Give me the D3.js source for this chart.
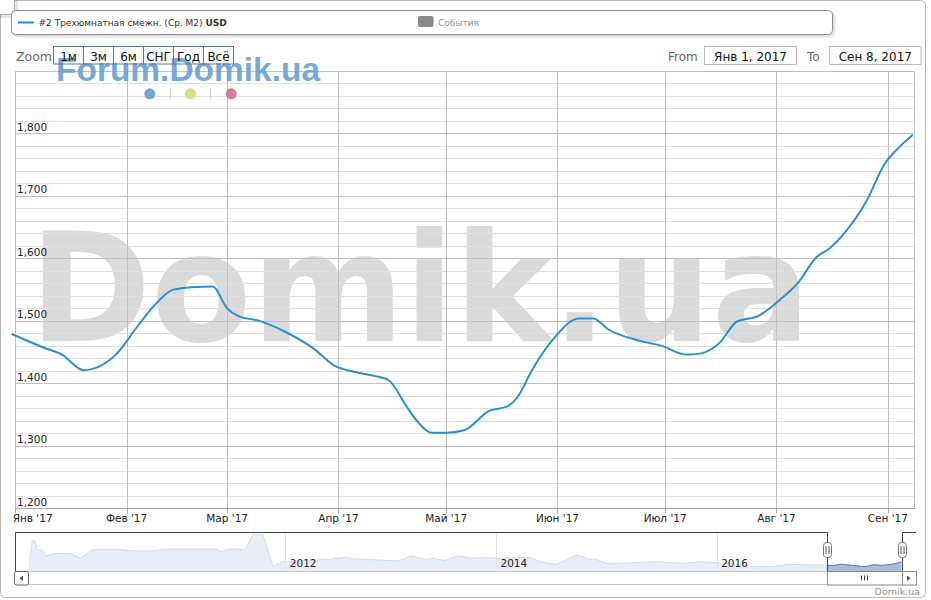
<!DOCTYPE html>
<html><head><meta charset="utf-8">
<script src="https://cdn.jsdelivr.net/npm/d3@7"></script>
<style>
body{margin:0;background:#fff;}
svg{display:block;font-family:"DejaVu Sans",Verdana,sans-serif;}
</style>
</head><body>
<svg id="c" width="931" height="600"></svg>
<script>
// ---------------- DATA ----------------
const seriesName = "#2 Трехюмнатная смежн. (Ср. М2) ";
const seriesUnit = "USD";
const eventsLabel = "События";
const zoomLabel = "Zoom";
const zoomButtons = ["1м","3м","6м","СНГ","Год","Всё"];
const fromText = "From", toText = "To";
const fromValue = "Янв 1, 2017", toValue = "Сен 8, 2017";
const monthNames = ["Янв","Фев","Мар","Апр","Май","Июн","Июл","Авг","Сен","Окт","Ноя","Дек"];
const yTicks = [1200,1300,1400,1500,1600,1700,1800];
const navYears = [2012, 2014, 2016];
const watermarkBig = "Domik.ua";
const watermarkSmall = "Forum.Domik.ua";
const creditText = "Domik.ua";

const mainDates = ["2016-12-31","2017-01-09","2017-01-14","2017-01-20","2017-01-24","2017-01-29",
 "2017-02-04","2017-02-08","2017-02-14","2017-02-19","2017-02-25","2017-03-01","2017-03-04",
 "2017-03-10","2017-03-17","2017-03-25","2017-03-31","2017-04-05","2017-04-11","2017-04-15",
 "2017-04-20","2017-04-23","2017-04-27","2017-05-01","2017-05-06","2017-05-13","2017-05-18",
 "2017-05-21","2017-05-25","2017-05-31","2017-06-07","2017-06-11","2017-06-15","2017-06-24",
 "2017-06-30","2017-07-07","2017-07-11","2017-07-16","2017-07-21","2017-07-27","2017-08-02",
 "2017-08-07","2017-08-12","2017-08-16","2017-08-20","2017-08-26","2017-08-31","2017-09-04","2017-09-08"];
const mainValues = [1479,1457,1446,1421,1426,1446,
 1491,1520,1550,1554,1555,1520,1508,
 1500,1483,1456,1428,1419,1412,1405,
 1363,1339,1321,1321,1325,1356,1363,
 1379,1422,1472,1504,1504,1487,1468,
 1460,1446,1448,1464,1499,1508,1534,
 1561,1601,1617,1641,1691,1750,1777,1798];

const navDates = ["2009-06-05","2009-06-10","2009-06-17","2009-06-27","2009-07-06","2009-07-24","2009-08-06",
 "2009-09-09","2009-11-03","2009-12-12","2010-01-21","2010-02-27","2010-03-29","2010-05-05","2010-06-11",
 "2010-09-04","2010-10-23","2011-04-24","2011-05-12","2011-06-05","2011-07-18","2011-08-05","2011-09-05",
 "2011-10-11","2011-11-17","2011-12-24","2012-01-17","2012-03-27","2012-06-04","2012-07-26","2012-09-04",
 "2013-01-27","2013-03-14","2013-04-29","2013-06-03","2013-07-07","2013-08-22","2013-10-13","2013-11-17",
 "2014-01-05","2014-04-23","2014-06-06","2014-07-21","2014-09-25","2014-11-08","2014-11-28","2015-01-02",
 "2015-02-05","2015-04-06","2015-06-11","2015-09-07","2015-11-12","2016-01-01","2016-03-02","2016-05-07",
 "2016-07-02","2016-08-26","2016-11-01","2016-12-28"];
const navValues = [2350,2350,4030,4030,3050,3050,2420,
 2700,2700,2180,3050,3150,3100,3120,2970,
 2970,3150,3150,2870,3150,3150,2970,4690,
 4690,1290,1850,1810,2005,2080,2290,2110,
 1900,2455,2080,2185,1930,2455,2185,2250,
 2185,2290,1720,1550,2550,2080,2100,1650,
 1650,1720,1830,1650,1830,1720,1550,1300,
 1300,1550,1480,1480];

// ---------------- SETUP ----------------
const svg = d3.select("#c");
const P = d3.utcParse("%Y-%m-%d");
const main = mainDates.map((d,i)=>({date:P(d), value:mainValues[i]}));
const nav = navDates.map((d,i)=>({date:P(d), value:navValues[i]})).concat(main);
const crisp = v => Math.round(v) + 0.5;

const plot = {l:15.3, r:915, t:71, b:508.3};
const x = d3.scaleUtc().domain([Date.UTC(2017,0,1), Date.UTC(2017,8,8,14)]).range([plot.l, plot.r]);
const y = d3.scaleLinear().domain([1200, 1900]).range([plot.b, plot.t]);

// outer border
svg.append("rect").attr("x",0.5).attr("y",0.5).attr("width",925).attr("height",597)
  .attr("rx",5).attr("fill","#fff").attr("stroke","#b8b8b8");

// top-left small box
[3,2,1].forEach((o,i)=>svg.append("rect").attr("x",-4+o).attr("y",-4+o).attr("width",19).attr("height",19)
  .attr("rx",3).attr("fill","none").attr("stroke","#000").attr("stroke-opacity",0.05*(i+1)).attr("stroke-width",1));
svg.append("rect").attr("x",-4.5).attr("y",-4.5).attr("width",19).attr("height",19).attr("rx",3)
  .attr("fill","#fff").attr("stroke","#aaa");

// legend box with shadow
[3,2,1].forEach((o,i)=>svg.append("rect").attr("x",11.5+o).attr("y",10.5+o).attr("width",821).attr("height",24)
  .attr("rx",4).attr("fill","none").attr("stroke","#000").attr("stroke-opacity",0.05*(i+1)));
svg.append("rect").attr("x",11.5).attr("y",10.5).attr("width",821).attr("height",24).attr("rx",4)
  .attr("fill","#fff").attr("stroke","#909090");
svg.append("line").attr("x1",18).attr("x2",34).attr("y1",22.5).attr("y2",22.5)
  .attr("stroke","#2b8fcf").attr("stroke-width",2);
const lt = svg.append("text").attr("x",38.5).attr("y",25.5).attr("font-size",9).attr("fill","#333");
lt.append("tspan").text(seriesName);
lt.append("tspan").attr("font-weight","bold").text(seriesUnit);
svg.append("rect").attr("x",418).attr("y",16).attr("width",15.5).attr("height",11).attr("rx",2).attr("fill","#888");
svg.append("text").attr("x",438).attr("y",25.5).attr("font-size",9).attr("fill","#999").text(eventsLabel);

// big watermark (behind grid)
svg.append("text").attr("x",29.5).attr("y",340.7).attr("font-size",152).attr("font-weight","bold")
  .attr("fill","#dadada").attr("textLength",781).attr("lengthAdjust","spacingAndGlyphs").text(watermarkBig);

// grid
const g = svg.append("g");
const minor = d3.range(1200, 1901, 20).filter(v => v % 100 !== 0);
g.selectAll(".mn").data(minor).enter().append("line")
  .attr("x1",plot.l).attr("x2",plot.r).attr("y1",d=>crisp(y(d))).attr("y2",d=>crisp(y(d)))
  .attr("stroke","#e0e0e0");
g.selectAll(".mj").data(yTicks.concat([1900])).enter().append("line")
  .attr("x1",plot.l).attr("x2",plot.r).attr("y1",d=>crisp(y(d))).attr("y2",d=>crisp(y(d)))
  .attr("stroke","#c0c0c0");
const months = x.ticks(d3.utcMonth.every(1));
g.selectAll(".vg").data(months).enter().append("line")
  .attr("x1",d=>crisp(x(d))).attr("x2",d=>crisp(x(d))).attr("y1",plot.t).attr("y2",plot.b)
  .attr("stroke","#c0c0c0");
g.append("line").attr("x1",crisp(plot.r)-1).attr("x2",crisp(plot.r)-1).attr("y1",plot.t).attr("y2",plot.b).attr("stroke","#c0c0c0");

// y labels
svg.selectAll(".yl").data(yTicks).enter().append("text")
  .attr("x",17).attr("y",d=>y(d)-2.5).attr("font-size",10.5).attr("fill","#222")
  .text(d=>d3.format(",")(d));

// x axis
svg.append("line").attr("x1",plot.l).attr("x2",plot.r).attr("y1",crisp(plot.b)).attr("y2",crisp(plot.b)).attr("stroke","#a8a8a8");
svg.selectAll(".xt").data(months).enter().append("line")
  .attr("x1",d=>crisp(x(d))).attr("x2",d=>crisp(x(d))).attr("y1",plot.b).attr("y2",plot.b+5).attr("stroke","#a8a8a8");
svg.selectAll(".xl").data(months).enter().append("text")
  .attr("y",522).attr("font-size",10.5).attr("fill","#222")
  .text(d=>monthNames[d.getUTCMonth()]+" '"+String(d.getUTCFullYear()).slice(2))
  .each(function(d){
    const w = this.getComputedTextLength();
    let left = x(d) - w/2;
    if (left < 12.7) left = 12.7;
    d3.select(this).attr("x", left);
  });

// series line
svg.append("path").datum(main)
  .attr("d", d3.line().x(d=>x(d.date)).y(d=>y(d.value)).curve(d3.curveMonotoneX))
  .attr("fill","none").attr("stroke","#2b8fcf").attr("stroke-width",2).attr("stroke-linejoin","round");

// Forum watermark
svg.append("text").attr("x",56).attr("y",81).attr("font-family","'Liberation Sans',Arial,sans-serif")
  .attr("font-weight","bold").attr("font-size",33).attr("fill","#6a9fd4").attr("fill-opacity",0.92)
  .attr("textLength",264).attr("lengthAdjust","spacingAndGlyphs").text(watermarkSmall);
const dotColors = ["#78a5d7","#dade82","#dc7896"];
svg.selectAll(".dot").data(dotColors).enter().append("circle")
  .attr("cx",(d,i)=>149.8+i*40.7).attr("cy",93.8).attr("r",5.5).attr("fill",d=>d);
[170.3, 210.7].forEach(sx=>svg.append("line").attr("x1",sx).attr("x2",sx).attr("y1",88).attr("y2",99.5)
  .attr("stroke","#cccccc"));

// range selector
svg.append("text").attr("x",16).attr("y",61).attr("font-size",12.5).attr("fill","#666").text(zoomLabel);
const bw = 30, bx0 = 53.5;
const btn = svg.selectAll(".btn").data(zoomButtons).enter().append("g");
btn.append("rect").attr("x",(d,i)=>bx0+i*bw).attr("y",46.5).attr("width",bw).attr("height",17.5)
  .attr("fill","none").attr("stroke","#5b79a6");
btn.append("text").attr("x",(d,i)=>bx0+i*bw+bw/2).attr("y",60.5).attr("text-anchor","middle")
  .attr("font-size",12).attr("fill","#111").text(d=>d);

svg.append("text").attr("x",668).attr("y",60.5).attr("font-size",12).attr("fill","#666").text(fromText);
svg.append("rect").attr("x",704.5).attr("y",46.5).attr("width",92).attr("height",18).attr("fill","#fff").attr("stroke","#bbb");
svg.append("text").attr("x",750.5).attr("y",60.5).attr("text-anchor","middle").attr("font-size",12).attr("fill","#111").text(fromValue);
svg.append("text").attr("x",807).attr("y",60.5).attr("font-size",12).attr("fill","#666").text(toText);
svg.append("rect").attr("x",829.5).attr("y",46.5).attr("width",91.5).attr("height",18).attr("fill","#fff").attr("stroke","#bbb");
svg.append("text").attr("x",875.3).attr("y",60.5).attr("text-anchor","middle").attr("font-size",12).attr("fill","#111").text(toValue);

// ---------------- NAVIGATOR ----------------
const nav0 = 532, nav1 = 571;
const selL = 826.7, selR = 901.7, navL = 15, navR = 916;
const nx = d3.scaleUtc()
  .domain([Date.UTC(2009,3,15), Date.UTC(2012,0,1), Date.UTC(2014,0,1), Date.UTC(2016,0,1), Date.UTC(2017,0,1), Date.UTC(2017,8,8,14), Date.UTC(2017,9,20)])
  .range([navL, 285.3, 496, 716.7, selL, selR, navR]);
const ny = d3.scaleLinear().domain([850, 4950]).range([nav1, nav0]);

svg.append("path").datum(nav)
  .attr("d", d3.area().x(d=>nx(d.date)).y0(nav1).y1(d=>ny(d.value)))
  .attr("fill","#a9bcd9");
svg.append("path").datum(nav)
  .attr("d", d3.line().x(d=>nx(d.date)).y(d=>ny(d.value)))
  .attr("fill","none").attr("stroke","#4a70a8").attr("stroke-width",1);
svg.append("rect").attr("x",navL).attr("y",nav0).attr("width",selL-navL).attr("height",nav1-nav0).attr("fill","#fff").attr("fill-opacity",0.75);
svg.append("rect").attr("x",selR).attr("y",nav0).attr("width",navR-selR).attr("height",nav1-nav0).attr("fill","#fff").attr("fill-opacity",0.75);
svg.selectAll(".ng").data(navYears).enter().append("line")
  .attr("x1",d=>crisp(nx(Date.UTC(d,0,1)))).attr("x2",d=>crisp(nx(Date.UTC(d,0,1))))
  .attr("y1",nav0).attr("y2",nav1).attr("stroke","#e4e4e4");
svg.selectAll(".nl").data(navYears).enter().append("text")
  .attr("x",d=>nx(Date.UTC(d,0,1))+4.5).attr("y",566.5).attr("font-size",10.5).attr("fill","#222").text(d=>d);
svg.append("path").attr("d",
  `M${crisp(navL)},${nav1} L${crisp(navL)},${crisp(nav0)} L${crisp(selL)},${crisp(nav0)} L${crisp(selL)},${nav1}` +
  ` M${crisp(selR)},${nav1} L${crisp(selR)},${crisp(nav0)} L${navR},${crisp(nav0)}`)
  .attr("fill","none").attr("stroke","#444");
[selL, selR].forEach(hx=>{
  svg.append("rect").attr("x",crisp(hx)-4).attr("y",542.5).attr("width",8).attr("height",15).attr("rx",3)
    .attr("fill","#fff").attr("stroke","#777");
  [-1.5,1.5].forEach(o=>svg.append("line").attr("x1",crisp(hx)+o).attr("x2",crisp(hx)+o).attr("y1",546).attr("y2",554).attr("stroke","#555"));
});
svg.append("line").attr("x1",navL).attr("x2",navR).attr("y1",crisp(nav1)).attr("y2",crisp(nav1)).attr("stroke","#c8c8c8");
svg.append("line").attr("x1",navL).attr("x2",navR).attr("y1",584.5).attr("y2",584.5).attr("stroke","#c8c8c8");
svg.append("rect").attr("x",crisp(selL)).attr("y",crisp(nav1)).attr("width",selR-selL).attr("height",13.5)
  .attr("fill","#fff").attr("stroke","#888");
[-3,0,3].forEach(o=>svg.append("line").attr("x1",crisp((selL+selR)/2)+o).attr("x2",crisp((selL+selR)/2)+o)
  .attr("y1",575.5).attr("y2",580.5).attr("stroke","#444"));
svg.append("rect").attr("x",14.5).attr("y",571.5).attr("width",14).attr("height",13.5).attr("rx",2)
  .attr("fill","#fff").attr("stroke","#666");
svg.append("path").attr("d","M23,575.5 L19.5,578.3 L23,581 Z").attr("fill","#555");
svg.append("rect").attr("x",crisp(selR)).attr("y",571.5).attr("width",14).attr("height",13.5)
  .attr("fill","#fff").attr("stroke","#888");
svg.append("path").attr("d","M907,575.5 L910.5,578.3 L907,581 Z").attr("fill","#555");

svg.append("text").attr("x",920).attr("y",594.5).attr("text-anchor","end").attr("font-size",9.5)
  .attr("fill","#909090").text(creditText);
</script>
</body></html>
